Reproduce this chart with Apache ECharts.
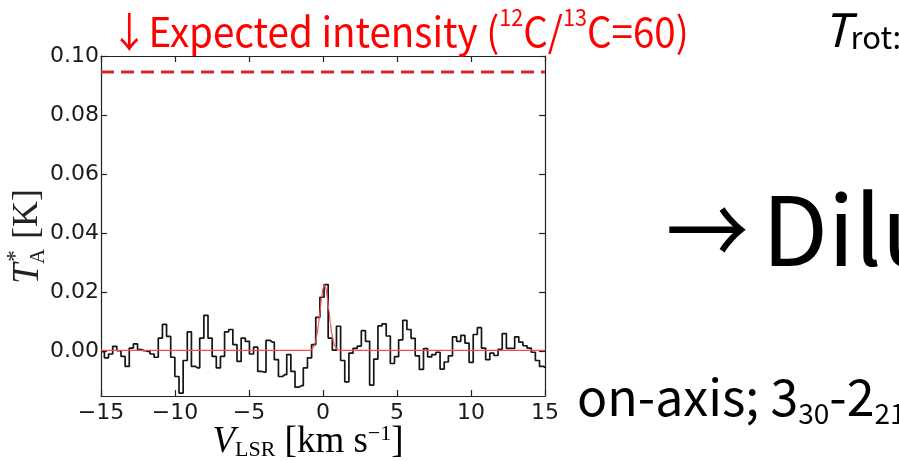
<!DOCTYPE html>
<html>
<head>
<meta charset="utf-8">
<script src="https://cdn.jsdelivr.net/npm/echarts@6/dist/echarts.min.js"></script>
<style>
html,body{margin:0;padding:0;background:#fff;}
#c{width:899px;height:461px;}
</style>
</head>
<body>
<div id="c"></div>
<script>
// Channel centre velocities (km/s)
var velocity = [-14.91,-14.63,-14.35,-14.07,-13.79,-13.51,-13.23,-12.95,-12.67,-12.39,-12.11,-11.83,-11.55,-11.27,-10.99,-10.71,-10.43,-10.15,-9.87,-9.59,-9.31,-9.03,-8.75,-8.47,-8.19,-7.91,-7.63,-7.35,-7.07,-6.79,-6.51,-6.23,-5.95,-5.67,-5.39,-5.11,-4.83,-4.55,-4.27,-3.99,-3.71,-3.43,-3.15,-2.87,-2.59,-2.31,-2.03,-1.75,-1.47,-1.19,-0.91,-0.63,-0.35,-0.07,0.21,0.49,0.77,1.05,1.33,1.61,1.89,2.17,2.45,2.73,3.01,3.29,3.57,3.85,4.13,4.41,4.69,4.97,5.25,5.53,5.81,6.09,6.37,6.65,6.93,7.21,7.49,7.77,8.05,8.33,8.61,8.89,9.17,9.45,9.73,10.01,10.29,10.57,10.85,11.13,11.41,11.69,11.97,12.25,12.53,12.81,13.09,13.37,13.65,13.93,14.21,14.49,14.77,15.05];
// Antenna temperature T_A* (K)
var intensity = [0.0000,-0.0021,-0.0008,0.0018,0.0003,-0.0016,-0.0050,0.0012,0.0026,0.0007,0.0003,0.0001,-0.0008,-0.0019,0.0046,0.0092,0.0052,-0.0019,-0.0084,-0.0140,-0.0030,0.0067,-0.0050,-0.0055,0.0046,0.0123,0.0046,-0.0016,-0.0055,-0.0016,0.0067,0.0075,0.0024,-0.0033,0.0046,0.0035,-0.0008,0.0015,-0.0067,-0.0069,0.0038,0.0032,-0.0027,-0.0084,-0.0078,-0.0010,-0.0067,-0.0120,-0.0115,-0.0055,-0.0021,0.0024,0.0116,0.0184,0.0227,0.0046,0.0005,0.0086,-0.0030,-0.0102,-0.0005,0.0011,0.0019,0.0071,0.0035,-0.0113,-0.0025,0.0087,0.0094,0.0053,-0.0040,-0.0017,0.0040,0.0106,0.0075,0.0045,-0.0014,-0.0060,0.0010,-0.0018,-0.0010,-0.0002,-0.0059,-0.0035,-0.0014,0.0050,0.0035,0.0055,0.0029,-0.0036,0.0058,0.0081,0.0012,-0.0027,-0.0005,-0.0013,0.0008,0.0061,0.0011,0.0011,0.0050,0.0032,0.0020,0.0012,-0.0002,-0.0030,-0.0050,-0.0055];
// Fitted profile
var fitVelocity = [-15,-1.0,-0.8,-0.6,-0.5,-0.4,-0.3,-0.2,-0.1,0.0,0.1,0.2,0.3,0.4,0.5,0.6,0.7,0.8,1.0,1.2,15];
var fitIntensity = [0.0004,0.0004,0.0006,0.0019,0.0034,0.0059,0.0095,0.0139,0.0182,0.0214,0.0226,0.0214,0.0182,0.0139,0.0095,0.0059,0.0034,0.0019,0.0006,0.0004,0.0004];
// Expected intensity level
var expectedVelocity = [-15,15];
var expectedIntensity = [0.0946,0.0946];
// Tick values
var xTicks = [-15,-10,-5,0,5,10,15];
var yTicks = [0.00,0.02,0.04,0.06,0.08,0.10];

function pairs(xs, ys){ return xs.map(function(x,i){ return [x, ys[i]]; }); }

var chart = echarts.init(document.getElementById('c'), null, {renderer:'canvas'});
var frame = {show:true, onZero:false, lineStyle:{color:'#222', width:1.2}};
var tickStyle = {show:true, inside:true, length:6, lineStyle:{color:'#222', width:1.2}};
var labelFont = {fontFamily:'DejaVu Sans', fontSize:22, color:'#1a1a1a'};

var option = {
  animation:false,
  backgroundColor:'#fff',
  grid:{left:101, right:354, top:56, bottom:65, containLabel:false},
  xAxis:[
    {type:'value', min:-15, max:15, position:'bottom',
     axisLine:frame, axisTick:Object.assign({customValues:xTicks}, tickStyle), splitLine:{show:false},
     axisLabel:Object.assign({customValues:xTicks, margin:6, formatter:function(v){ return (v<0?'\u2212':'')+Math.abs(v); }}, labelFont)},
    {type:'value', min:-15, max:15, position:'top',
     axisLine:frame, axisTick:Object.assign({customValues:xTicks}, tickStyle), splitLine:{show:false}, axisLabel:{show:false}}
  ],
  yAxis:[
    {type:'value', min:-0.015, max:0.1, position:'left',
     axisLine:frame, axisTick:Object.assign({customValues:yTicks}, tickStyle), splitLine:{show:false},
     axisLabel:Object.assign({customValues:yTicks, margin:2, formatter:function(v){ return v.toFixed(2); }}, labelFont)},
    {type:'value', min:-0.015, max:0.1, position:'right',
     axisLine:frame, axisTick:Object.assign({customValues:yTicks}, tickStyle), splitLine:{show:false}, axisLabel:{show:false}}
  ],
  series:[
    {type:'line', name:'spectrum', data:pairs(velocity, intensity), step:'middle', showSymbol:false,
     lineStyle:{color:'#151515', width:1.7}, clip:true, z:2},
    {type:'line', name:'fit', data:pairs(fitVelocity, fitIntensity), smooth:0.35, smoothMonotone:'x', showSymbol:false,
     lineStyle:{color:'#ff4a4a', width:1.2}, clip:true, z:3},
    {type:'line', name:'expected', data:pairs(expectedVelocity, expectedIntensity), showSymbol:false,
     lineStyle:{color:'#d62a2a', width:3, type:[13,7]}, clip:true, z:3}
  ],
  graphic:[
    {type:'text', x:110, y:52, scaleX:0.94, z:10,
     style:{text:'{n|\u2193Expected intensity (}{s|12}{n|C/}{s|13}{n|C=60)}', fill:'#ff0000',
       textVerticalAlign:'bottom',
       rich:{n:{fontFamily:'Noto Sans CJK JP', fontSize:41, lineHeight:46, color:'#ff0000', verticalAlign:'bottom'},
             s:{fontFamily:'Noto Sans CJK JP', fontSize:23, lineHeight:23, color:'#ff0000', verticalAlign:'top'}}}},
    {type:'text', x:823, y:53, z:10,
     style:{text:'{t|T}{r|rot:}', textVerticalAlign:'bottom',
       rich:{t:{fontFamily:'Noto Sans CJK JP', fontStyle:'italic', fontSize:46, lineHeight:50, color:'#000', verticalAlign:'bottom'},
             r:{fontFamily:'Noto Sans CJK JP', fontSize:31, lineHeight:31, color:'#000', verticalAlign:'bottom'}}}},
    {type:'text', x:666, y:230, scaleX:0.86, z:10,
     style:{text:'\u2192', fill:'#000', font:'96px "Noto Sans CJK JP"', textVerticalAlign:'middle'}},
    {type:'text', x:762, y:230, z:10,
     style:{text:'Dilu', fill:'#000', font:'96px "Noto Sans CJK JP"', textVerticalAlign:'middle'}},
    {type:'text', x:577, y:427, z:10,
     style:{text:'{n|on-axis; 3}{b|30}{n|-2}{b|21}', textVerticalAlign:'bottom',
       rich:{n:{fontFamily:'Noto Sans CJK JP', fontSize:50, lineHeight:55, color:'#000', verticalAlign:'top'},
             b:{fontFamily:'Noto Sans CJK JP', fontSize:28, lineHeight:28, color:'#000', verticalAlign:'bottom'}}}},
    {type:'text', x:308, y:442, z:10,
     style:{text:'{v|V}{l|LSR}{n| [km s}{e|\u22121}{n|]}', textAlign:'center', textVerticalAlign:'middle',
       rich:{v:{fontFamily:'Liberation Serif', fontStyle:'italic', fontSize:37, lineHeight:38, color:'#222', verticalAlign:'middle'},
             l:{fontFamily:'Liberation Serif', fontSize:22, lineHeight:22, color:'#222', verticalAlign:'bottom'},
             n:{fontFamily:'Liberation Serif', fontSize:37, lineHeight:38, color:'#222', verticalAlign:'middle'},
             e:{fontFamily:'Liberation Serif', fontSize:22, lineHeight:22, color:'#222', verticalAlign:'top'}}}},
    {type:'group', x:28, y:221, rotation:Math.PI/2, z:10, children:[
      {type:'text', x:-63, y:0, style:{text:'T', font:'italic 37px "Liberation Serif"', fill:'#222', textVerticalAlign:'middle'}},
      {type:'text', x:-41, y:-12, style:{text:'*', font:'24px "Liberation Serif"', fill:'#222', textVerticalAlign:'middle'}},
      {type:'text', x:-43, y:10, style:{text:'A', font:'21px "Liberation Serif"', fill:'#222', textVerticalAlign:'middle'}},
      {type:'text', x:-27, y:0, style:{text:' [K]', font:'36px "Liberation Serif"', fill:'#222', textVerticalAlign:'middle'}}
    ]}
  ]
};
chart.setOption(option);
</script>
</body>
</html>
